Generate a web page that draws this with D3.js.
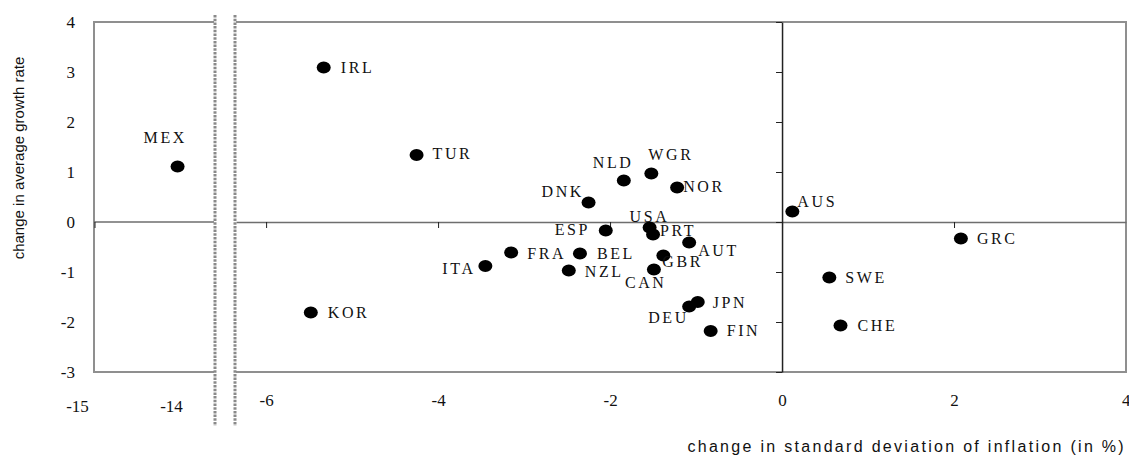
<!DOCTYPE html>
<html>
<head>
<meta charset="utf-8">
<script src="https://cdn.jsdelivr.net/npm/d3@7"></script>
<style>
  body { margin: 0; background: #fff; }
  svg { display: block; }
</style>
</head>
<body>
<svg id="chart" width="1129" height="459"></svg>
<script>
// Country codes with change in inflation volatility (x) and change in average growth (y)
const countries = ["IRL","TUR","KOR","MEX","NLD","WGR","NOR","DNK","ESP","USA","PRT","AUT",
                   "FRA","BEL","GBR","ITA","NZL","CAN","JPN","DEU","FIN","AUS","GRC","SWE","CHE"];
const inflationChange = [-5.33,-4.25,-5.48,-13.93,-1.84,-1.52,-1.22,-2.25,-2.05,-1.54,-1.50,-1.08,
                         -3.15,-2.35,-1.38,-3.45,-2.48,-1.49,-0.98,-1.08,-0.83,0.12,2.08,0.55,0.68];
const growthChange = [3.09,1.34,-1.81,1.11,0.83,0.97,0.69,0.39,-0.17,-0.11,-0.25,-0.41,
                      -0.61,-0.63,-0.67,-0.88,-0.97,-0.95,-1.60,-1.69,-2.18,0.21,-0.33,-1.11,-2.07];

const xTicksLeft = [-15, -14];
const xTicksRight = [-6, -4, -2, 0, 2, 4];
const yTicks = [4, 3, 2, 1, 0, -1, -2, -3];
const yTitle = "change in average growth rate";
const xTitle = "change in standard deviation of inflation (in %)";

// Label placement relative to each dot: [dx to text start, dy to baseline]
const labelOffset = {
  IRL:[17,5], TUR:[16,4], KOR:[17,5], MEX:[-34,-24], NLD:[-31,-13], WGR:[-3,-14],
  NOR:[6,4], DNK:[-47,-6], ESP:[-51,4], USA:[-20,-6], PRT:[7,1], AUT:[9,13],
  FRA:[16,6], BEL:[17,5], GBR:[-1,11], ITA:[-43,8], NZL:[16,6], CAN:[-29,18],
  JPN:[15,6], DEU:[-41,16], FIN:[16,5], AUS:[5,-5], GRC:[16,5], SWE:[16,5], CHE:[17,5]
};

const svg = d3.select("#chart");

// Panel extents (broken x axis)
const plotTop = 22, plotBottom = 372;
const leftPanel = [94, 214];
const rightPanel = [236, 1126];
const breakLines = [215, 235];

const y = d3.scaleLinear().domain([-3, 4]).range([plotBottom, plotTop]);
const xLeft = d3.scaleLinear().domain([-15, -14]).range([77, 171]);
const xRight = d3.scaleLinear().domain([-6.35, 4]).range(rightPanel);

const frameColor = "#8f8f8f";
const serif = "'Liberation Serif', 'Times New Roman', serif";
const sans = "'Liberation Sans', Arial, sans-serif";
const plainNumber = d => String(d);

// Frames
svg.append("path")
  .attr("d", `M${leftPanel[1]},${plotTop}H${leftPanel[0]}V${plotBottom}H${leftPanel[1]}`)
  .attr("fill", "none").attr("stroke", frameColor).attr("stroke-width", 2);
svg.append("path")
  .attr("d", `M${rightPanel[0]},${plotTop}H${rightPanel[1]}V${plotBottom}H${rightPanel[0]}`)
  .attr("fill", "none").attr("stroke", frameColor).attr("stroke-width", 2);

// Zero line in the left panel
svg.append("line")
  .attr("x1", leftPanel[0]).attr("x2", leftPanel[1])
  .attr("y1", y(0)).attr("y2", y(0))
  .attr("stroke", "#6e6e6e").attr("stroke-width", 1.5);
svg.append("line")
  .attr("x1", leftPanel[0] + 1).attr("x2", leftPanel[0] + 1)
  .attr("y1", y(0)).attr("y2", y(0) + 6)
  .attr("stroke", "#222").attr("stroke-width", 1);

// Zero line with ticks in the right panel
const zeroAxis = svg.append("g")
  .attr("transform", `translate(0,${y(0)})`)
  .call(d3.axisBottom(xRight).tickValues(xTicksRight.filter(v => v < 4))
        .tickSize(6).tickSizeOuter(0).tickFormat(""));
zeroAxis.select(".domain").attr("stroke", "#6e6e6e").attr("stroke-width", 1.5);
zeroAxis.selectAll(".tick line").attr("stroke", "#222");

// Vertical axis at x = 0
const vAxis = svg.append("g")
  .attr("transform", `translate(${xRight(0)},0)`)
  .call(d3.axisLeft(y).tickValues(yTicks).tickSize(6).tickSizeOuter(0).tickFormat(""));
vAxis.select(".domain").attr("stroke", "#222").attr("stroke-width", 1.5);
vAxis.selectAll(".tick line").attr("stroke", "#222");

// Y tick labels
const yAxis = svg.append("g")
  .attr("transform", `translate(${leftPanel[0]},0)`)
  .call(d3.axisLeft(y).tickValues(yTicks).tickSize(0).tickPadding(19).tickFormat(plainNumber));
yAxis.select(".domain").remove();
yAxis.selectAll("text").attr("font-family", serif).attr("font-size", 17).attr("fill", "#111");

// X tick labels
const xAxisR = svg.append("g")
  .attr("transform", `translate(0,${plotBottom})`)
  .call(d3.axisBottom(xRight).tickValues(xTicksRight).tickSize(0).tickPadding(22).tickFormat(plainNumber));
xAxisR.select(".domain").remove();
xAxisR.selectAll("text").attr("font-family", serif).attr("font-size", 17).attr("fill", "#111")
  .filter(d => d === 4).attr("text-anchor", "end").attr("dx", "4");

const xAxisL = svg.append("g")
  .attr("transform", `translate(0,${plotBottom})`)
  .call(d3.axisBottom(xLeft).tickValues(xTicksLeft).tickSize(0).tickPadding(28).tickFormat(plainNumber));
xAxisL.select(".domain").remove();
xAxisL.selectAll("text").attr("font-family", serif).attr("font-size", 17).attr("fill", "#111");

// Axis break markers
svg.selectAll("line.break").data(breakLines).join("line")
  .attr("class", "break")
  .attr("x1", d => d).attr("x2", d => d)
  .attr("y1", 15).attr("y2", 426)
  .attr("stroke", "#8a8a8a").attr("stroke-width", 3)
  .attr("stroke-dasharray", "2.5,1.2");

// Points and labels
const points = countries.map((c, i) => ({
  code: c, x: inflationChange[i], y: growthChange[i]
}));
const px = d => d.x < -10 ? xLeft(d.x) : xRight(d.x);

svg.append("g").selectAll("ellipse").data(points).join("ellipse")
  .attr("cx", px).attr("cy", d => y(d.y))
  .attr("rx", 7).attr("ry", 6).attr("fill", "#000");

svg.append("g").selectAll("text").data(points).join("text")
  .attr("x", d => px(d) + labelOffset[d.code][0])
  .attr("y", d => y(d.y) + labelOffset[d.code][1])
  .attr("font-family", serif).attr("font-size", 16)
  .attr("letter-spacing", 2.6).attr("fill", "#111")
  .text(d => d.code);

// Axis titles
svg.append("text")
  .attr("transform", `translate(24,158) rotate(-90)`)
  .attr("text-anchor", "middle")
  .attr("font-family", sans).attr("font-size", 15).attr("fill", "#111")
  .text(yTitle);

svg.append("text")
  .attr("x", 1126).attr("y", 452)
  .attr("text-anchor", "end")
  .attr("font-family", sans).attr("font-size", 16)
  .attr("letter-spacing", 2.3).attr("fill", "#111")
  .text(xTitle);
</script>
</body>
</html>
